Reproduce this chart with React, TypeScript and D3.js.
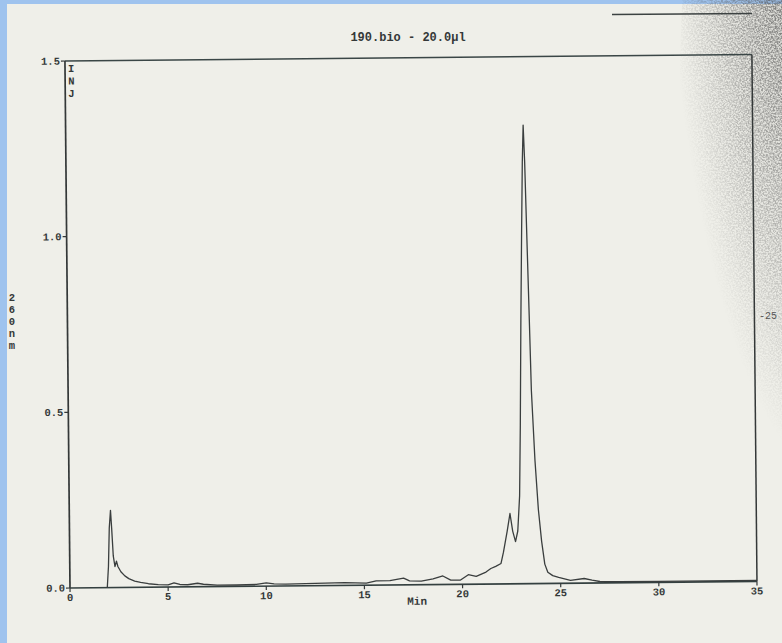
import React from "react";
import * as d3 from "d3";

const TITLE = "190.bio - 20.0µl";
const X_TICKS = [0, 5, 10, 15, 20, 25, 30, 35];
const Y_TICKS = [0.0, 0.5, 1.0, 1.5];
const Y_TICK_LABELS = ["0.0", "0.5", "1.0", "1.5"];
const Y_LABEL = ["2", "6", "0", "n", "m"];
const INJ = ["I", "N", "J"];

const TIMES = [
  1.9, 1.97, 2.03, 2.1, 2.15, 2.22, 2.3, 2.38, 2.45, 2.6, 2.8, 3.0, 3.3, 3.6, 4.0, 4.5, 5.0, 5.3, 5.6, 6.0,
  6.5, 6.8, 7.5, 8.5, 9.5, 10.0, 10.4, 11.0, 12.0, 13.0, 14.0, 15.1, 15.6, 16.3, 17.0, 17.3, 17.9, 18.5,
  19.0, 19.4, 19.9, 20.3, 20.7, 21.2, 21.45, 21.7, 21.97, 22.1, 22.3, 22.45, 22.58, 22.72, 22.84, 22.95,
  23.02, 23.1, 23.18, 23.25, 23.31, 23.37, 23.44, 23.52, 23.6, 23.75, 23.9, 24.05, 24.2, 24.35, 24.6,
  24.9, 25.5, 26.2, 26.6, 27.0, 28.0, 30.0, 35.0,
];
const ABSORB = [
  0.0, 0.06, 0.17, 0.22, 0.17, 0.09, 0.06, 0.075, 0.06, 0.045, 0.033, 0.025, 0.018, 0.014, 0.01, 0.007,
  0.006, 0.012, 0.007, 0.006, 0.01, 0.007, 0.004, 0.004, 0.005, 0.009, 0.006, 0.005, 0.006, 0.007, 0.008,
  0.006, 0.012, 0.012, 0.019, 0.011, 0.01, 0.016, 0.024, 0.012, 0.012, 0.027, 0.022, 0.034, 0.044, 0.05,
  0.058, 0.09, 0.15, 0.2, 0.15, 0.12, 0.15, 0.25, 0.45, 0.75, 1.0, 1.2, 1.305, 1.2, 1.0, 0.78, 0.55, 0.35,
  0.21, 0.12, 0.055, 0.032, 0.022, 0.017, 0.008, 0.013, 0.008, 0.004, 0.003, 0.003, 0.003,
];

const W = 782;
const H = 643;
const X0 = 70;
const X1 = 757;
const Y0 = 588;
const Y1 = 61;
const INK = "#343838";
const FONT = "'Liberation Mono', 'DejaVu Sans Mono', monospace";

export default function App() {
  const x = d3.scaleLinear().domain([0, 35]).range([X0, X1]);
  const y = d3.scaleLinear().domain([0, 1.5]).range([Y0, Y1]);
  const pts: [number, number][] = TIMES.map((t, i) => [t, ABSORB[i]]);
  const line = d3
    .line<[number, number]>()
    .x((d) => x(d[0]))
    .y((d) => y(d[1]))
    .curve(d3.curveLinear);

  return (
    <svg
      width={W}
      height={H}
      style={{ position: "absolute", left: 0, top: 0, display: "block" }}
      xmlns="http://www.w3.org/2000/svg"
    >
      <defs>
        <filter id="speck" x="0" y="0" width="100%" height="100%" colorInterpolationFilters="sRGB">
          <feTurbulence type="fractalNoise" baseFrequency="0.6" numOctaves="2" seed="7" result="t" />
          <feColorMatrix
            in="t"
            type="matrix"
            values="0 0 0 0 0.3  0 0 0 0 0.3  0 0 0 0 0.3  3 0 0 0 -1.05"
          />
        </filter>
        <radialGradient id="fade" cx="0.75" cy="0.1" r="0.85">
          <stop offset="0" stopColor="#fff" stopOpacity="1" />
          <stop offset="0.4" stopColor="#fff" stopOpacity="0.75" />
          <stop offset="1" stopColor="#fff" stopOpacity="0" />
        </radialGradient>
        <mask id="noiseMask" maskUnits="userSpaceOnUse" x="0" y="0" width={W} height={H}>
          <ellipse cx={785} cy={90} rx={105} ry={430} fill="url(#fade)" />
        </mask>
        <radialGradient id="shade" cx="0.75" cy="0.1" r="0.8">
          <stop offset="0" stopColor="#4a4a4a" stopOpacity="0.45" />
          <stop offset="0.5" stopColor="#6a6a6a" stopOpacity="0.18" />
          <stop offset="1" stopColor="#888" stopOpacity="0" />
        </radialGradient>
      </defs>

      <rect x={0} y={0} width={W} height={H} fill="#9fc3ee" />
      <rect x={7} y={4} width={W - 7} height={H - 4} fill="#efefe9" />

      {/* scan darkening at the right edge */}
      <ellipse cx={785} cy={90} rx={105} ry={430} fill="url(#shade)" />
      <g mask="url(#noiseMask)">
        <rect x={660} y={0} width={122} height={540} filter="url(#speck)" />
      </g>
      <line x1={612} y1={14.5} x2={752} y2={13.5} stroke="#3c4242" strokeWidth={1.6} />

      <text x={408} y={41} textAnchor="middle" fontFamily={FONT} fontSize={12} fontWeight="bold" fill={INK}>
        {TITLE}
      </text>

      {Y_LABEL.map((c, i) => (
        <text
          key={"yl" + i}
          x={12}
          y={301 + i * 12}
          textAnchor="middle"
          fontFamily={FONT}
          fontSize={10.5}
          fontWeight="bold"
          fill={INK}
        >
          {c}
        </text>
      ))}

      <text x={759} y={319} fontFamily={FONT} fontSize={10} fill="#555">
        -25
      </text>

      <g transform={`rotate(-0.55, ${X0}, ${Y0})`}>
        {/* frame */}
        <line x1={X0} y1={Y1} x2={X1} y2={Y1} stroke="#3a4646" strokeWidth={1.6} />
        <line x1={X1} y1={Y1} x2={X1} y2={Y0} stroke={INK} strokeWidth={1.5} />
        <line x1={X0} y1={Y1} x2={X0} y2={Y0} stroke={INK} strokeWidth={1.7} />
        <line x1={X0} y1={Y0} x2={X1} y2={Y0} stroke="#344040" strokeWidth={1.7} />

        {Y_TICKS.map((v, i) => (
          <g key={"yt" + i}>
            <line x1={X0 - 4} y1={y(v)} x2={X0} y2={y(v)} stroke={INK} strokeWidth={1.2} />
            <text
              x={X0 - 5}
              y={y(v) + 3.5}
              textAnchor="end"
              fontFamily={FONT}
              fontSize={10.5}
              fontWeight="bold"
              fill={INK}
            >
              {Y_TICK_LABELS[i]}
            </text>
          </g>
        ))}

        {X_TICKS.map((t) => (
          <g key={"xt" + t}>
            <line x1={x(t)} y1={Y0} x2={x(t)} y2={Y0 + 4} stroke={INK} strokeWidth={1.2} />
            <text
              x={x(t)}
              y={Y0 + 13}
              textAnchor="middle"
              fontFamily={FONT}
              fontSize={10.5}
              fontWeight="bold"
              fill={INK}
            >
              {t}
            </text>
          </g>
        ))}

        <text x={417} y={608} textAnchor="middle" fontFamily={FONT} fontSize={11} fontWeight="bold" fill={INK}>
          Min
        </text>

        {INJ.map((c, i) => (
          <text
            key={"inj" + i}
            x={73}
            y={72 + i * 12.5}
            fontFamily={FONT}
            fontSize={10.5}
            fontWeight="bold"
            fill={INK}
          >
            {c}
          </text>
        ))}

        <path d={line(pts) || ""} fill="none" stroke="#3a3e3e" strokeWidth={1.3} strokeLinejoin="round" />
      </g>
    </svg>
  );
}
